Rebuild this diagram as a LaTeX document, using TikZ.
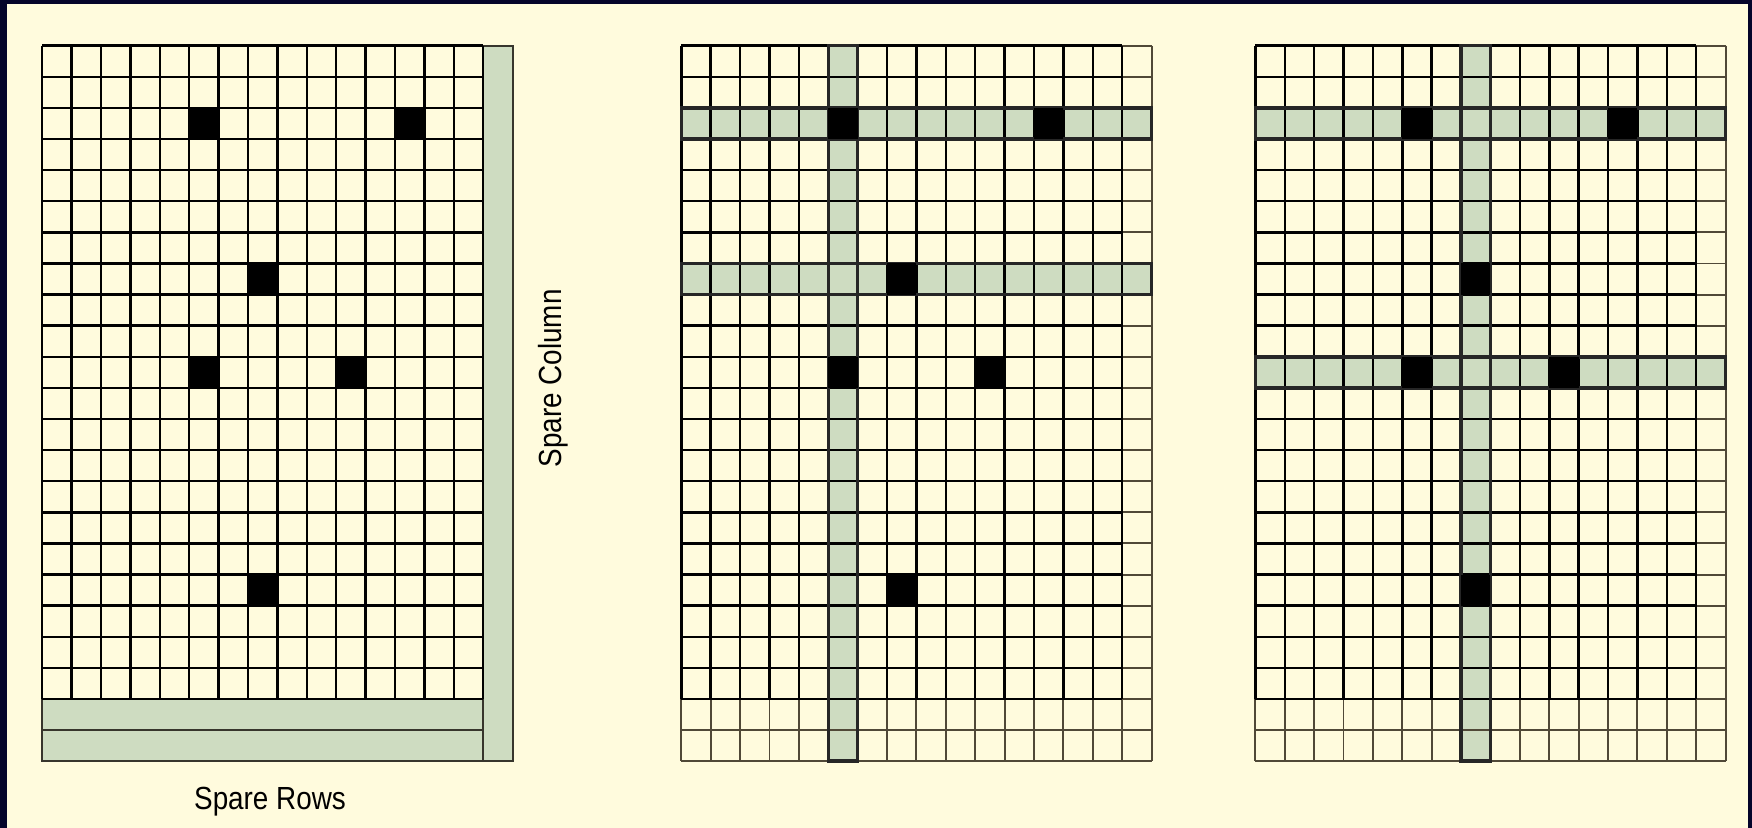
\documentclass[tikz,border=0pt]{standalone}
\usepackage{fontspec}
\newfontfamily\narrowsans[FakeStretch=0.87]{Liberation Sans}
\definecolor{frame}{RGB}{4,4,42}
\definecolor{paper}{RGB}{255,251,221}
\definecolor{spare}{RGB}{206,220,193}
\definecolor{faint}{RGB}{80,72,55}
\definecolor{rim}{RGB}{55,53,44}

\begin{document}
\begin{tikzpicture}[
  x=0.01cm, y=-0.01cm,
  gridline/.style={line width=0.7pt, black},
  faintline/.style={line width=0.55pt, faint},
  sparecell/.style={fill=spare, draw=rim, line width=0.6pt},
  band/.style={draw=black!85, line width=1pt},
  sparetext/.style={font=\narrowsans\fontsize{9.1}{11}\selectfont, inner sep=0pt}
]
  % frame and paper
  \fill[frame] (0,0) rectangle (1752,828);
  \fill[paper] (7.3,4) rectangle (1748.3,828);

  % memory array with spare rows and spare column
  \begin{scope}[shift={(0.421cm,-0.457cm)}, x=0.2939cm, y=-0.3109cm]
    \draw[sparecell] (15,0) rectangle (16,23);
    \draw[sparecell] (0,21) rectangle (15,22);
    \draw[sparecell] (0,22) rectangle (15,23);
    \foreach \c/\r in {5/2,12/2,7/7,5/10,10/10,7/17}
      \fill (\c,\r) rectangle ++(1,1);
    \foreach \c in {0,...,15}
      \draw[gridline] (\c,0) -- (\c,21);
    \foreach \r in {0,...,21}
      \draw[gridline] (0,\r) -- (15,\r);
  \end{scope}

  % two repair solutions
  \foreach \gx/\bc/\ra/\rb in {6.809/5/2/7, 12.546/7/2/10} {
    \begin{scope}[shift={(\gx cm,-0.457cm)}, x=0.29375cm, y=-0.3109cm]
      \fill[spare] (\bc,0) rectangle (\bc+1,23);
      \fill[spare] (0,\ra) rectangle (16,\ra+1);
      \fill[spare] (0,\rb) rectangle (16,\rb+1);
      \foreach \c in {0,...,16}
        \draw[faintline] (\c,21) -- (\c,23);
      \draw[faintline] (16,0) -- (16,21);
      \foreach \r in {0,...,21}
        \draw[faintline] (15,\r) -- (16,\r);
      \foreach \r in {22,23}
        \draw[faintline] (0,\r) -- (16,\r);
      \foreach \c in {0,...,15}
        \draw[gridline] (\c,0) -- (\c,21);
      \foreach \r in {0,...,21}
        \draw[gridline] (0,\r) -- (15,\r);
      \draw[band] (\bc,0) rectangle (\bc+1,23);
      \draw[band] (0,\ra) rectangle (16,\ra+1);
      \draw[band] (0,\rb) rectangle (16,\rb+1);
      \foreach \c/\r in {5/2,12/2,7/7,5/10,10/10,7/17}
        \fill (\c,\r) rectangle ++(1,1);
    \end{scope}
  }

  \node[sparetext, anchor=base] (rowslabel) at (270,809) {Spare Rows};
  \node[sparetext, anchor=base, rotate=90] (columnlabel) at (561.7,378.3) {Spare Column};
\end{tikzpicture}
\end{document}
